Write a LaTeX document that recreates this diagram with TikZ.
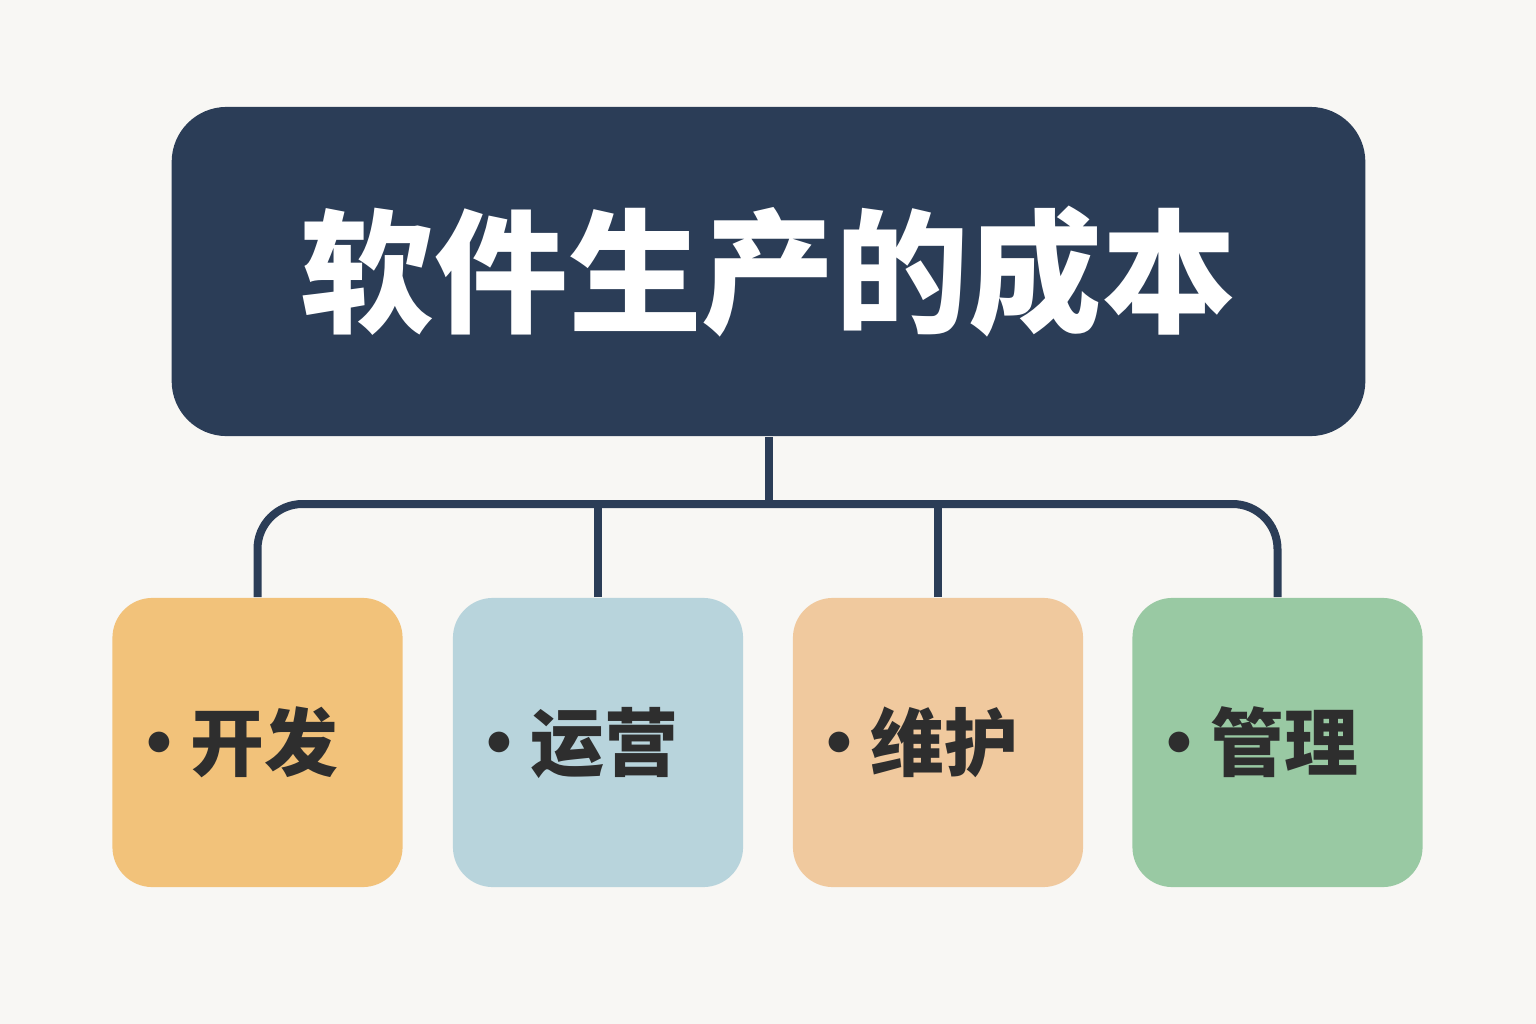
\documentclass[tikz,border=0pt]{standalone}
\usepackage{fontspec}
\newfontfamily\cjk{Noto Sans CJK SC}
\usetikzlibrary{positioning,calc}
\definecolor{bgcol}{HTML}{F8F7F4}
\definecolor{navy}{HTML}{2B3D57}
\definecolor{inkc}{HTML}{2E2E2E}
\definecolor{kfcol}{HTML}{F2C27A}
\definecolor{yycol}{HTML}{B8D4DC}
\definecolor{whcol}{HTML}{F0C99E}
\definecolor{glcol}{HTML}{99C9A3}

\begin{document}
\begin{tikzpicture}[
  x=0.01cm, y=-0.01cm,
  topbox/.style={fill=navy, rounded corners=0.55cm, minimum width=11.93cm, minimum height=3.29cm,
    text=white, font=\cjk\bfseries\fontsize{38}{45}\selectfont},
  leafbox/.style={rounded corners=0.4cm, minimum width=2.9cm, minimum height=2.89cm,
    text width=2.7cm, inner xsep=0.1cm, align=left,
    text=inkc, font=\cjk\bfseries\fontsize{21}{26}\selectfont},
  link/.style={draw=navy, line width=0.08cm}
]
\fill[bgcol] (0,0) rectangle (1536,1024);
\node[topbox] (top) at (768.5,271.5) {软件生产的成本};
\node[leafbox, fill=kfcol] (kf) at (257.5,742.5) {•\kern-0.08em开发};
\node[leafbox, fill=yycol] (yy) at (598,742.5) {•\kern-0.08em运营};
\node[leafbox, fill=whcol] (wh) at (938,742.5) {•\kern-0.08em维护};
\node[leafbox, fill=glcol] (gl) at (1277.5,742.5) {•\kern-0.08em管理};
\coordinate (hub) at (768.5,504);
\draw[link] (top.south) -- (hub);
\draw[link, rounded corners=0.45cm] (kf.north) |- (hub) -| (gl.north);
\draw[link] (yy.north) -- (yy.north |- hub);
\draw[link] (wh.north) -- (wh.north |- hub);
\end{tikzpicture}
\end{document}
